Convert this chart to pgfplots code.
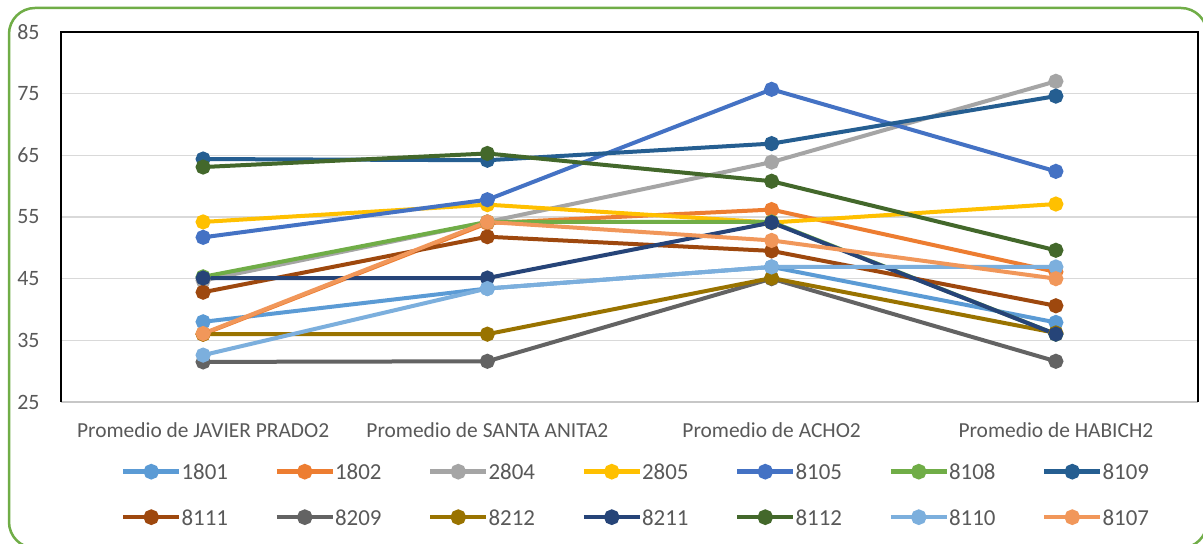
\documentclass[border=0pt]{standalone}
\usepackage{fontspec}
\setmainfont{Carlito}
\usepackage{pgfplots}
\pgfplotsset{compat=1.18}
\definecolor{c1801}{HTML}{5B9BD5}
\definecolor{c1802}{HTML}{ED7D31}
\definecolor{c2804}{HTML}{A5A5A5}
\definecolor{c2805}{HTML}{FFC000}
\definecolor{c8105}{HTML}{4472C4}
\definecolor{c8108}{HTML}{70AD47}
\definecolor{c8109}{HTML}{255E91}
\definecolor{c8111}{HTML}{9E480E}
\definecolor{c8209}{HTML}{636363}
\definecolor{c8212}{HTML}{997300}
\definecolor{c8211}{HTML}{264478}
\definecolor{c8112}{HTML}{43682B}
\definecolor{c8110}{HTML}{7CAFDD}
\definecolor{c8107}{HTML}{F1975A}
\definecolor{bordergreen}{HTML}{70AD47}
\definecolor{labelgray}{HTML}{595959}
\definecolor{gridgray}{HTML}{D9D9D9}
\newcommand{\ent}[1]{\makebox[93bp][l]{\fontsize{23}{27}\selectfont\color{labelgray}\rule[-4bp]{0pt}{22bp}#1}}
\begin{document}
\begin{tikzpicture}[x=1bp,y=1bp]
\useasboundingbox (0,0) rectangle (1203,544);
\fill[white] (0,0) rectangle (1203,544);
\draw[bordergreen, line width=2.5bp, rounded corners=26bp] (9,-4) rectangle (1207,536);
\begin{axis}[
  at={(61bp,142bp)}, anchor=south west,
  scale only axis, width=1137bp, height=370bp,
  xmin=-0.5, xmax=3.5, ymin=25, ymax=85,
  xtick={0,1,2,3},
  xticklabels={Promedio de JAVIER PRADO2, Promedio de SANTA ANITA2, Promedio de ACHO2, Promedio de HABICH2},
  ytick={25,35,45,55,65,75,85},
  ymajorgrids, grid style={color=gridgray, line width=1.3bp},
  major tick length=0pt,
  axis line style={draw=none},
  tick label style={font=\fontsize{21.5}{25}\selectfont, text=labelgray},
  yticklabel style={font=\fontsize{22}{26}\selectfont, xshift=-18bp},
  xticklabel style={yshift=-17bp},
  /pgf/number format/assume math mode=true,
  clip=false,
  every axis plot/.append style={line width=4bp, mark=*, mark size=5.5bp},
  legend columns=7,
  legend style={at={(0.0528,-0.162)}, anchor=north west, draw=none, fill=none,
    inner sep=0pt, outer sep=0pt, column sep=0pt, row sep=26bp,
    font=\fontsize{23}{27}\selectfont, nodes={inner sep=0pt}},
  legend cell align=left,
  legend image code/.code={\draw[line width=4.5bp, mark repeat=2, mark phase=2, mark size=5.5bp] plot coordinates {(0bp,0bp) (28bp,0bp) (56bp,0bp)};},
]
\draw[gridgray!80!gray, line width=1.2bp] (rel axis cs:0,0) -- (rel axis cs:1,0);
\draw[black, line width=1.2bp] (rel axis cs:0,0) -- (rel axis cs:0,1) -- (rel axis cs:1,1) -- (rel axis cs:1,0);
\addplot[c1801, mark options={fill=c1801}] coordinates {(0,38.0) (1,43.4) (2,46.9) (3,37.9)};
\addlegendentry{\ent{1801}}
\addplot[c1802, mark options={fill=c1802}] coordinates {(0,36.0) (1,54.0) (2,56.2) (3,46.1)};
\addlegendentry{\ent{1802}}
\addplot[c2804, mark options={fill=c2804}] coordinates {(0,44.7) (1,54.2) (2,63.9) (3,77.0)};
\addlegendentry{\ent{2804}}
\addplot[c2805, mark options={fill=c2805}] coordinates {(0,54.2) (1,57.0) (2,54.1) (3,57.1)};
\addlegendentry{\ent{2805}}
\addplot[c8105, mark options={fill=c8105}] coordinates {(0,51.7) (1,57.8) (2,75.7) (3,62.4)};
\addlegendentry{\ent{8105}}
\addplot[c8108, mark options={fill=c8108}] coordinates {(0,45.3) (1,54.2) (2,54.2) (3,36.0)};
\addlegendentry{\ent{8108}}
\addplot[c8109, mark options={fill=c8109}] coordinates {(0,64.4) (1,64.2) (2,66.9) (3,74.6)};
\addlegendentry{\ent{8109}}
\addplot[c8111, mark options={fill=c8111}] coordinates {(0,42.8) (1,51.8) (2,49.5) (3,40.6)};
\addlegendentry{\ent{8111}}
\addplot[c8209, mark options={fill=c8209}] coordinates {(0,31.5) (1,31.6) (2,45.0) (3,31.6)};
\addlegendentry{\ent{8209}}
\addplot[c8212, mark options={fill=c8212}] coordinates {(0,36.0) (1,36.0) (2,45.1) (3,36.2)};
\addlegendentry{\ent{8212}}
\addplot[c8211, mark options={fill=c8211}] coordinates {(0,45.1) (1,45.1) (2,54.1) (3,36.0)};
\addlegendentry{\ent{8211}}
\addplot[c8112, mark options={fill=c8112}] coordinates {(0,63.1) (1,65.3) (2,60.8) (3,49.6)};
\addlegendentry{\ent{8112}}
\addplot[c8110, mark options={fill=c8110}] coordinates {(0,32.6) (1,43.4) (2,46.9) (3,46.9)};
\addlegendentry{\ent{8110}}
\addplot[c8107, mark options={fill=c8107}] coordinates {(0,36.1) (1,54.2) (2,51.2) (3,45.0)};
\addlegendentry{\ent{8107}}
\end{axis}
\end{tikzpicture}
\end{document}
